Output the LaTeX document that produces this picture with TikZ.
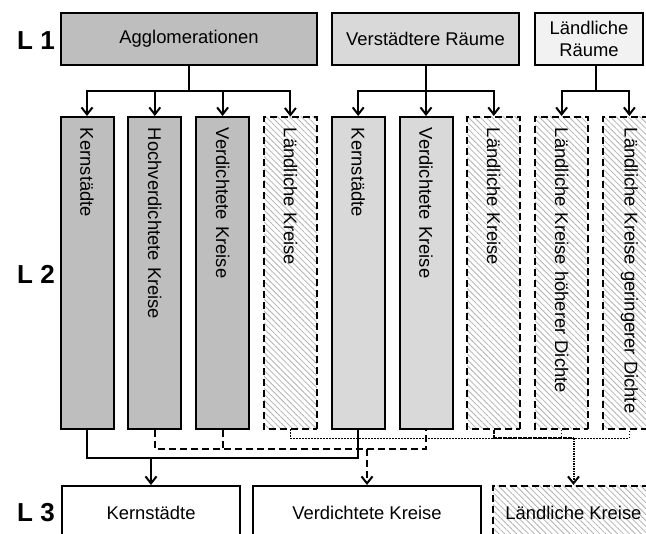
\documentclass[tikz,border=0pt]{standalone}
\usepackage{fontspec}
\setmainfont{Liberation Sans}
\usetikzlibrary{arrows.meta,patterns.meta}
\definecolor{darkgrp}{gray}{0.745}
\definecolor{lightgrp}{gray}{0.85}
\definecolor{palegrp}{gray}{0.95}
\definecolor{hatchcol}{gray}{0.7}
\tikzset{
  lw/.style={line width=2pt},
  topbox/.style={draw, lw, minimum height=52pt, inner sep=0pt, align=center,
    font=\fontsize{18.4}{21.5}\selectfont},
  colbox/.style={draw, lw, rotate=-90, minimum height=53pt, text width=290pt,
    inner xsep=11pt, inner ysep=0pt, align=left, font=\fontsize{18.4}{22}\selectfont},
  darkfill/.style={fill=darkgrp},
  lightfill/.style={fill=lightgrp},
  hatched/.style={dash pattern=on 7pt off 4pt,
    pattern={Lines[angle=-45,distance=4.2pt,line width=0.8pt]}, pattern color=hatchcol},
  botbox/.style={draw, lw, minimum height=54pt, inner sep=0pt,
    font=\fontsize{18.4}{22}\selectfont},
  lvl/.style={font=\fontsize{26}{30}\bfseries\selectfont, anchor=east, inner sep=0pt},
  tip/.style={-{Straight Barb[length=7pt,width=11pt]}},
  con/.style={lw},
  dashcon/.style={lw, dash pattern=on 7pt off 4pt},
  dotcon/.style={line width=1.7pt, dash pattern=on 1.5pt off 1.5pt},
  densedot/.style={line width=2pt, dash pattern=on 1.6pt off 0.9pt},
}
\begin{document}
\begin{tikzpicture}[x=1pt,y=-1pt]
\useasboundingbox (0,0) rectangle (646,534);
\clip (0,0) rectangle (646,534);

% level labels
\node[lvl] (l1) at (55,41) {L 1};
\node[lvl] (l2) at (55,274) {L 2};
\node[lvl] (l3) at (55,513) {L 3};

% level 1
\node[topbox, fill=darkgrp, minimum width=256pt] (a1) at (189,39) {Agglomerationen};
\node[topbox, fill=lightgrp, minimum width=187pt] (a2) at (425.5,39) {Verstädtere Räume};
\node[topbox, fill=palegrp, minimum width=108pt] (a3) at (589,39) {Ländliche\\Räume};

% level 2
\node[colbox, darkfill] (k1) at (87,273) {Kernstädte};
\node[colbox, darkfill] (k2) at (154.8,273) {Hochverdichtete Kreise};
\node[colbox, darkfill] (k3) at (222.6,273) {Verdichtete Kreise};
\node[colbox, hatched] (k4) at (290.4,273) {Ländliche Kreise};
\node[colbox, lightfill] (k5) at (358.2,273) {Kernstädte};
\node[colbox, lightfill] (k6) at (426,273) {Verdichtete Kreise};
\node[colbox, hatched] (k7) at (493.8,273) {Ländliche Kreise};
\node[colbox, hatched] (k8) at (561.6,273) {Ländliche Kreise höherer Dichte};
\node[colbox, hatched] (k9) at (629.4,273) {Ländliche Kreise geringerer Dichte};

% level 3
\node[botbox, minimum width=178pt] (b1) at (151,513) {Kernstädte};
\node[botbox, minimum width=228pt] (b2) at (367,513) {Verdichtete Kreise};
\node[botbox, hatched, minimum width=161pt] (b3) at (573.5,513) {Ländliche Kreise};

% connectors L1 -> L2
\coordinate (t1) at (189,91);
\coordinate (t2) at (426,91);
\coordinate (t3) at (595.5,91);
\draw[con] (a1) -- (t1);
\draw[con] (t2 |- a2.south) -- (t2);
\draw[con] (t3 |- a3.south) -- (t3);
\foreach \k in {k1,k2,k3,k4} \draw[con,tip] (t1) -| (\k);
\foreach \k in {k5,k6,k7} \draw[con,tip] (t2) -| (\k);
\foreach \k in {k8,k9} \draw[con,tip] (t3) -| (\k);

% connectors L2 -> L3
\draw[con] (k1.east) -- ++(0,28) coordinate (s1) -| (k5.east);
\draw[con,tip] (b1.north |- s1) -- (b1.north);

\draw[dashcon] (k2.east) -- ++(0,19) coordinate (d1) -| (k6.east);
\draw[dashcon] (k3.east) -- (k3.east |- d1);
\draw[dashcon,tip] (b2.north |- d1) -- (b2.north);

\draw[dotcon] (k4.east) -- ++(0,9) coordinate (p1) -| (k9.east);
\draw[dotcon] (k8.east) -- (k8.east |- p1);
\draw[densedot] (k7.east) -- (k7.east |- p1) -- (b3.north |- p1);
\draw[densedot,tip] (b3.north |- p1) -- (b3.north);
\end{tikzpicture}
\end{document}
